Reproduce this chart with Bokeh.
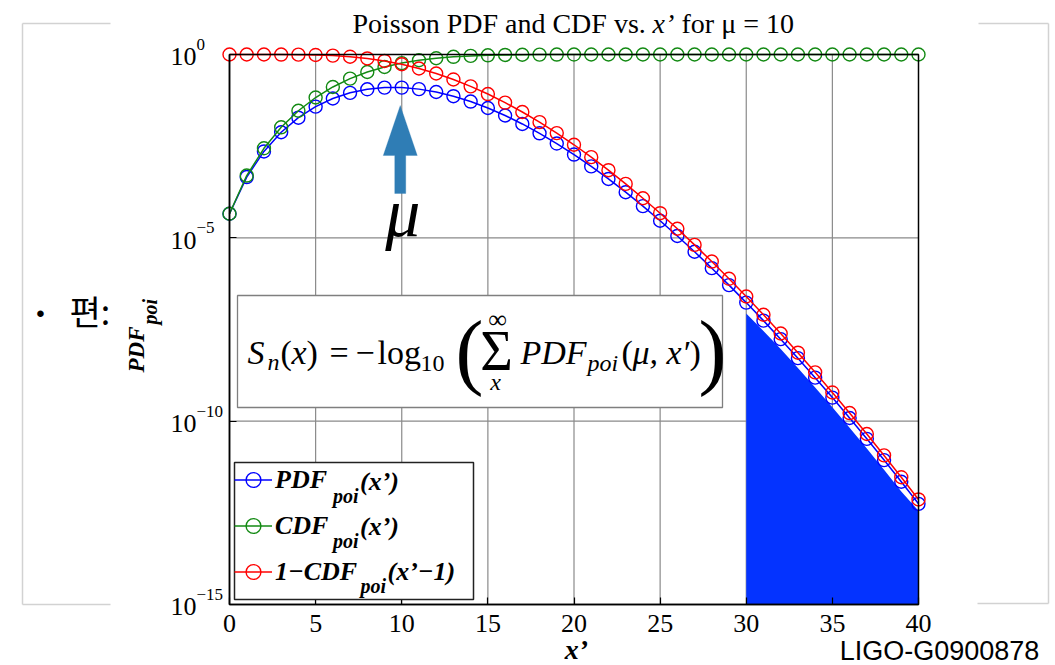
import math
from bokeh.plotting import figure
from bokeh.models import (Range1d, FixedTicker, Label, PolyAnnotation, BoxAnnotation,
                          Arrow, Legend, LegendItem, CustomJSTickFormatter, LinearAxis,
                          LogAxis, Grid)
from bokeh.embed import file_html
from bokeh.resources import INLINE

# ---------------- data ----------------
mu = 10
x_vals = list(range(0, 41))
pdf_vals = [4.54e-5, 4.54e-4, 2.27e-3, 7.567e-3, 1.892e-2, 3.783e-2, 6.306e-2, 9.008e-2,
            0.1126, 0.1251, 0.1251, 0.1137, 0.09478, 0.07291, 0.05208, 0.03472, 0.02170,
            0.01276, 7.091e-3, 3.732e-3, 1.866e-3, 8.886e-4, 4.039e-4, 1.756e-4, 7.317e-5,
            2.927e-5, 1.126e-5, 4.169e-6, 1.489e-6, 5.135e-7, 1.712e-7, 5.521e-8, 1.725e-8,
            5.228e-9, 1.538e-9, 4.394e-10, 1.220e-10, 3.299e-11, 8.680e-12, 2.226e-12, 5.564e-13]
cdf_vals = [4.54e-5, 4.994e-4, 2.769e-3, 1.034e-2, 2.925e-2, 6.709e-2, 0.1301, 0.2202,
            0.3328, 0.4579, 0.5830, 0.6968, 0.7916, 0.8645, 0.9165, 0.9513, 0.9730,
            0.9857, 0.9928, 0.9965, 0.9984, 0.9993, 0.9997, 0.9999, 0.99995, 0.99998,
            0.99999, 1.0, 1.0, 1.0, 1.0, 1.0, 1.0, 1.0, 1.0, 1.0, 1.0, 1.0, 1.0, 1.0, 1.0]
sf_vals = [1.0, 0.99995, 0.9995, 0.9972, 0.9897, 0.9707, 0.9329, 0.8699, 0.7798, 0.6672,
           0.5421, 0.4170, 0.3032, 0.2084, 0.1355, 0.08346, 0.04874, 0.02704, 0.01428,
           7.187e-3, 3.454e-3, 1.588e-3, 6.996e-4, 2.957e-4, 1.201e-4, 4.695e-5, 1.768e-5,
           6.422e-6, 2.253e-6, 7.643e-7, 2.509e-7, 7.983e-8, 2.462e-8, 7.372e-9, 2.144e-9,
           6.060e-10, 1.666e-10, 4.462e-11, 1.164e-11, 2.959e-12, 7.339e-13]
fill_x = list(range(30, 41))
fill_top = [8.7e-8, 2.9e-8, 9.3e-9, 2.8e-9, 8.3e-10, 2.4e-10, 6.6e-11, 1.8e-11,
            4.7e-12, 1.2e-12, 3.6e-13]
x_ticks = [0, 5, 10, 15, 20, 25, 30, 35, 40]
y_exps = [0, -5, -10, -15]
y_exp_labels = ["0", "\u22125", "\u221210", "\u221215"]
legend_names = ["PDF", "CDF", "1\u2212CDF"]
legend_suffix = ["(x\u2019)", "(x\u2019)", "(x\u2019\u22121)"]
title_parts = ["Poisson PDF and CDF vs.", "x\u2019", "for \u03bc = 10"]

XMIN, XMAX = 0, 40
YMIN, YMAX = 1e-15, 1.0

# ---------------- layout (pixels) ----------------
W, H = 1055, 665
FL, FR, FT, FB = 229, 918, 54, 604   # data area inside the canvas
LOG_LO, LOG_HI = math.log10(YMIN), math.log10(YMAX)


def X(px):
    return XMIN + (px - FL) / (FR - FL) * (XMAX - XMIN)


def Y(py):
    return 10 ** (LOG_HI - (py - FT) / (FB - FT) * (LOG_HI - LOG_LO))


def PX(x):
    return FL + (x - XMIN) / (XMAX - XMIN) * (FR - FL)


def PY_exp(e):
    return FT + (LOG_HI - e) / (LOG_HI - LOG_LO) * (FB - FT)


p = figure(frame_width=W, frame_height=H, min_border=0,
           min_border_left=0, min_border_right=0, min_border_top=0, min_border_bottom=0,
           x_range=Range1d(X(0), X(W)), y_range=Range1d(Y(H), Y(0)),
           y_axis_type="log", x_axis_location=None, y_axis_location=None,
           title=None, output_backend="svg", toolbar_location=None)
p.center = [r for r in p.center if not isinstance(r, Grid)]
p.background_fill_color = "white"
p.border_fill_color = "white"
p.outline_line_color = None

# axes placed at the data area's edges
xaxis = LinearAxis(fixed_location=YMIN, bounds=(XMIN, XMAX),
                   ticker=FixedTicker(ticks=x_ticks))
yaxis = LogAxis(fixed_location=XMIN, bounds=(YMIN, YMAX),
                ticker=FixedTicker(ticks=[10.0 ** e for e in y_exps]),
                formatter=CustomJSTickFormatter(code="return ''"))
for ax in (xaxis, yaxis):
    ax.axis_line_color = "black"
    ax.axis_line_width = 1.5
    ax.major_tick_in = 7
    ax.major_tick_out = 0
    ax.major_tick_line_color = "black"
    ax.major_tick_line_width = 1.2
    ax.minor_tick_line_color = None
xaxis.major_label_text_font = "Liberation Serif"
xaxis.major_label_text_font_size = "26px"
xaxis.major_label_text_color = "black"
xaxis.major_label_standoff = 10
yaxis.major_label_standoff = 0
p.add_layout(xaxis, "below")
p.add_layout(yaxis, "left")

# grid lines (at the tick values, spanning the data area)
GRID = "#8a8a8a"
p.segment(x0=x_ticks[1:-1], y0=YMIN, x1=x_ticks[1:-1], y1=YMAX,
          line_color=GRID, line_width=1.2)
yg = [10.0 ** e for e in y_exps[1:-1]]
p.segment(x0=XMIN, y0=yg, x1=XMAX, y1=yg, line_color=GRID, line_width=1.2)

# shaded tail region
p.varea(x=fill_x, y1=YMIN, y2=fill_top, fill_color="#0433ff", fill_alpha=1.0)

BLUE, GREEN, RED = "#0000ff", "#138a13", "#ff0000"
l1 = p.line(x_vals, pdf_vals, line_color=BLUE, line_width=1.5)
s1 = p.scatter(x_vals, pdf_vals, marker="circle", size=13, fill_color=None,
               line_color=BLUE, line_width=1.4)
l2 = p.line(x_vals, cdf_vals, line_color=GREEN, line_width=1.5)
s2 = p.scatter(x_vals, cdf_vals, marker="circle", size=13, fill_color=None,
               line_color=GREEN, line_width=1.4)
l3 = p.line(x_vals, sf_vals, line_color=RED, line_width=1.5)
s3 = p.scatter(x_vals, sf_vals, marker="circle", size=13, fill_color=None,
               line_color=RED, line_width=1.4)

# data-area border
p.add_layout(BoxAnnotation(left=XMIN, right=XMAX, bottom=YMIN, top=YMAX,
                           fill_alpha=0.0, line_color="black", line_width=1.5,
                           line_alpha=1.0, level="guide"))

# legend: white box underneath, legend itself transparent
LG_L, LG_R, LG_T, LG_B = 234, 473, 462, 599
p.add_layout(BoxAnnotation(left=X(LG_L), right=X(LG_R), top=Y(LG_T), bottom=Y(LG_B),
                           fill_color="white", fill_alpha=1.0,
                           line_color="#222222", line_width=1.5, line_alpha=1.0))
legend = Legend(items=[LegendItem(label=legend_names[0], renderers=[l1, s1]),
                       LegendItem(label=legend_names[1], renderers=[l2, s2]),
                       LegendItem(label=legend_names[2], renderers=[l3, s3])],
                location=(LG_L, H - LG_B + 9), orientation="vertical", padding=4,
                spacing=9, glyph_height=37, glyph_width=38, label_height=37,
                label_width=190, label_standoff=3, margin=0,
                border_line_color=None, background_fill_alpha=0.0,
                label_text_font="Liberation Serif", label_text_font_style="bold italic",
                label_text_font_size="26px", label_text_color="black")
p.add_layout(legend)

K = 0.29  # baseline correction (fraction of font size)


def lab(text, px, py, size, font="Liberation Serif", style="normal", align="left",
        angle=0.0, color="black"):
    if angle == 0.0:
        py = py - K * size
    else:
        px = px - K * size
    p.add_layout(Label(x=X(px), y=Y(py), text=text, text_font=font,
                       text_font_size=f"{size}px", text_font_style=style,
                       text_align=align, text_baseline="alphabetic", angle=angle,
                       text_color=color, level="overlay"))


# legend subscripts / suffixes (aligned with the legend's own labels)
row_base = [489, 534, 579]
name_w = [53.5, 53.5, 81.0]
for i in range(3):
    x0 = 279 + name_w[i]
    lab("poi", x0, row_base[i] + 12, 20, style="bold italic")
    lab(legend_suffix[i], x0 + 27, row_base[i], 26, style="bold italic")

# y tick labels (10^e)
for e, t in zip(y_exps, y_exp_labels):
    py = PY_exp(e)
    lab("10", 170, py + 10, 26)
    lab(t, 196, py - 5, 17)

# title
lab(title_parts[0], 352, 31, 28)
lab(title_parts[1], 652, 31, 28, style="italic")
lab(title_parts[2], 681, 31, 28)

# axis labels
lab("x\u2019", 576, 657, 28, style="bold italic", align="center")
lab("PDF", 143, 372, 23, style="bold italic", angle=math.pi / 2)
lab("poi", 155, 324, 20, style="bold italic", angle=math.pi / 2)

# arrow at mu
cx = PX(mu) - 1.5
ax_px = [cx, cx + 17, cx + 5.5, cx + 5.5, cx - 5.5, cx - 5.5, cx - 17]
ay_px = [105, 155, 155, 193, 193, 155, 155]
p.add_layout(PolyAnnotation(xs=[X(v) for v in ax_px], ys=[Y(v) for v in ay_px],
                            fill_color="#2f7db5", fill_alpha=1.0,
                            line_color="#2f7db5", line_width=1))
lab("\u03bc", PX(mu) + 1, 232, 70, style="italic", align="center")

# formula box
p.add_layout(BoxAnnotation(left=X(237), right=X(722), top=Y(295), bottom=Y(407),
                           fill_color="white", fill_alpha=1.0,
                           line_color="#7f7f7f", line_width=1.3, line_alpha=1.0))
lab("S", 247, 362, 34, style="italic")
lab("n", 267, 368, 24, style="italic")
lab("(", 280, 362, 34)
lab("x", 291, 362, 34, style="italic")
lab(")", 306, 362, 34)
lab("=", 329, 362, 34)
lab("\u2212", 355, 362, 34)
lab("log", 377, 362, 34)
lab("10", 420, 370, 24)
lab("(", 455, 374, 84)
lab("\u03a3", 496, 367, 56, align="center")
lab("\u221e", 497, 327, 26, align="center")
lab("x", 495, 388, 24, style="italic", align="center")
lab("PDF", 520, 362, 34, style="italic")
lab("poi", 587, 369, 24, style="italic")
lab("(", 621, 362, 34)
lab("\u03bc, x\u2032", 632, 362, 34, style="italic")
lab(")", 689, 362, 34)
lab(")", 698, 374, 84)

# slide decorations
lab("\u2022", 40, 320, 24, font="Liberation Sans", align="center")
lab("\ud3b8:", 69, 320, 34, font="Noto Sans CJK KR")
lab("LIGO-G0900878", 939, 658, 27, font="Liberation Sans", align="center")

GRAY = "#d2d2d2"
for (x0, y0, x1, y1) in [(22, 23, 110, 23), (22, 23, 22, 604), (22, 604, 110, 604),
                         (978, 23, 1048, 23), (1048, 23, 1048, 603), (977, 603, 1048, 603)]:
    p.add_layout(Arrow(end=None, x_start=X(x0), y_start=Y(y0), x_end=X(x1), y_end=Y(y1),
                       line_color=GRAY, line_width=1.5))

open("out.html", "w").write(file_html(p, INLINE, title="Poisson PDF and CDF"))
